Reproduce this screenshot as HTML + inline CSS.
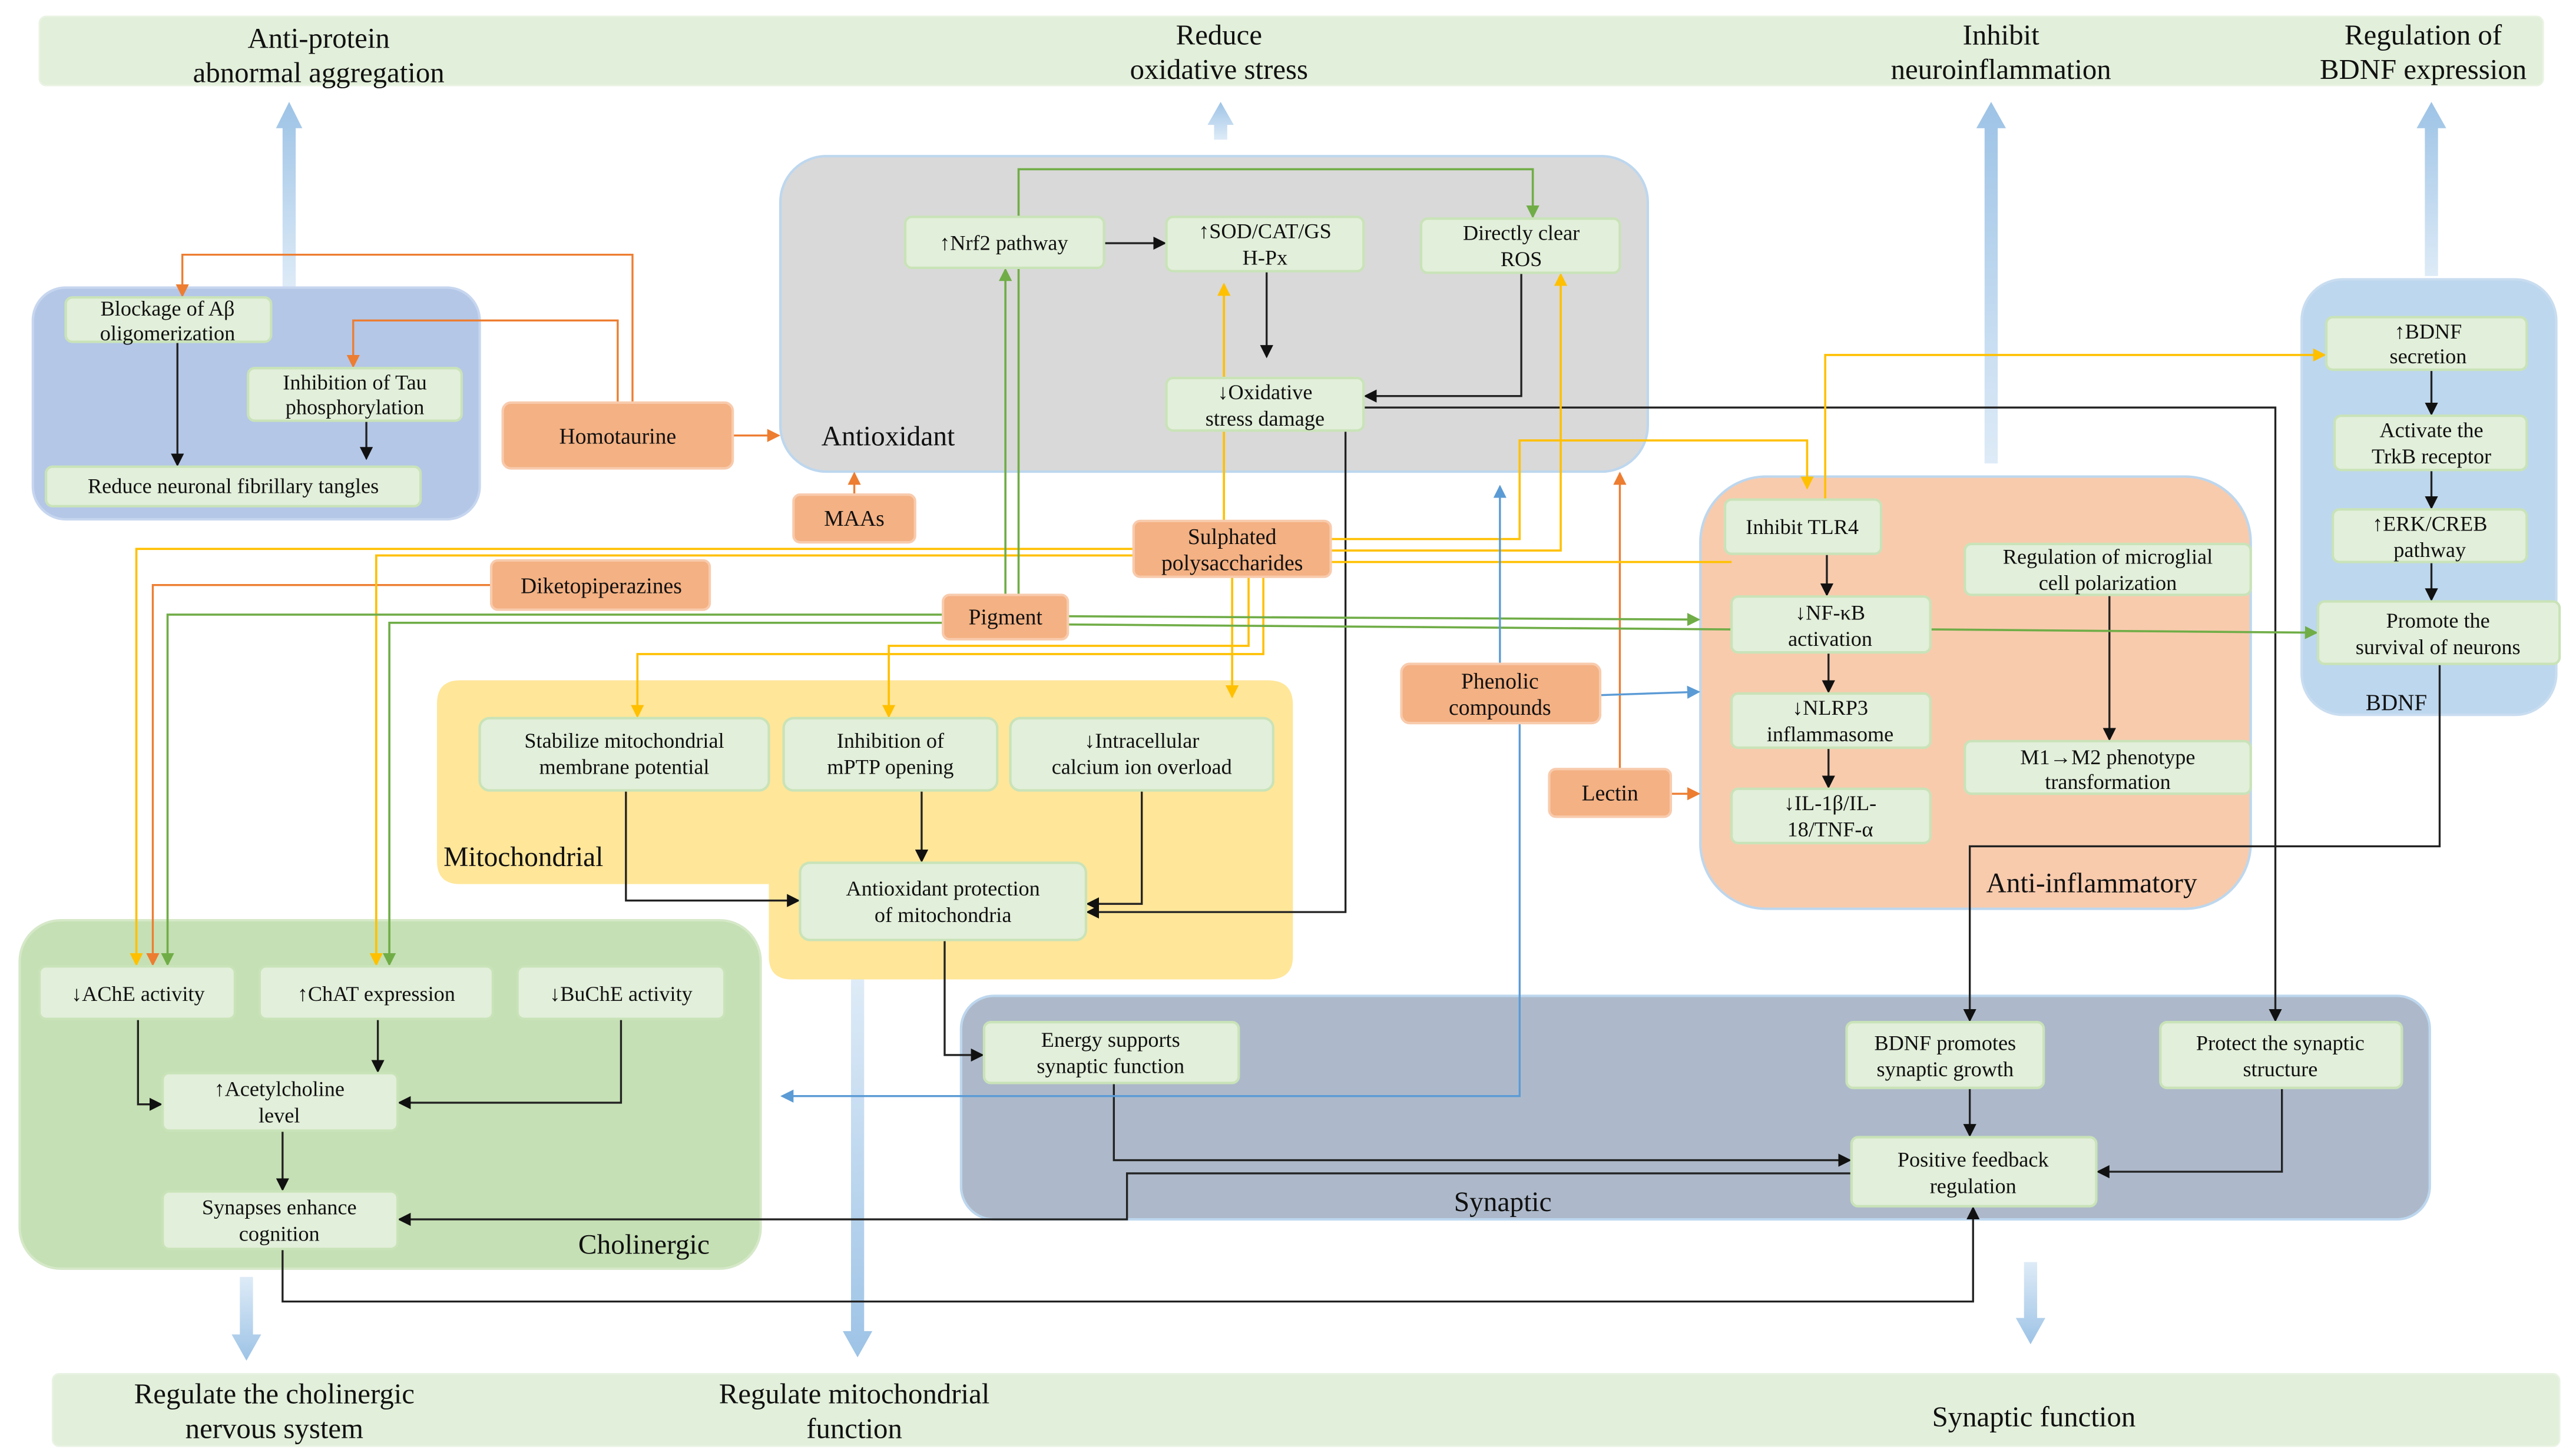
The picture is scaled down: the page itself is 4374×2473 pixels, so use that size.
<!DOCTYPE html>
<html><head><meta charset="utf-8"><style>
html,body{margin:0;padding:0;background:#fff;}
svg{display:block;}
text{font-family:"Liberation Serif",serif;fill:#111;}
.n{fill:#e2efda;stroke:#c9e3b8;stroke-width:1.5;}
.o{fill:#f4b183;stroke:#f8cbad;stroke-width:1.5;}
.t{font-size:13px;text-anchor:middle;}
.ot{font-size:13.5px;text-anchor:middle;}
.h{font-size:17.5px;text-anchor:middle;}
.g{font-size:17px;}
.k{fill:none;stroke:#222;stroke-width:1.2;}
.or{fill:none;stroke:#ed7d31;stroke-width:1.2;}
.y{fill:none;stroke:#ffc000;stroke-width:1.3;}
.gr{fill:none;stroke:#70ad47;stroke-width:1.3;}
.b{fill:none;stroke:#5b9bd5;stroke-width:1.2;}
</style></head><body>
<svg width="4374" height="2473" viewBox="0 0 1568 886" preserveAspectRatio="none" xmlns="http://www.w3.org/2000/svg">
<defs>
<marker id="ak" markerWidth="8" markerHeight="8" refX="7" refY="4" orient="auto" markerUnits="userSpaceOnUse"><path d="M0,0 L8,4 L0,8z" fill="#111"/></marker>
<marker id="ao" markerWidth="8" markerHeight="8" refX="7" refY="4" orient="auto" markerUnits="userSpaceOnUse"><path d="M0,0 L8,4 L0,8z" fill="#ed7d31"/></marker>
<marker id="ay" markerWidth="8" markerHeight="8" refX="7" refY="4" orient="auto" markerUnits="userSpaceOnUse"><path d="M0,0 L8,4 L0,8z" fill="#ffc000"/></marker>
<marker id="ag" markerWidth="8" markerHeight="8" refX="7" refY="4" orient="auto" markerUnits="userSpaceOnUse"><path d="M0,0 L8,4 L0,8z" fill="#70ad47"/></marker>
<marker id="ab" markerWidth="8" markerHeight="8" refX="7" refY="4" orient="auto" markerUnits="userSpaceOnUse"><path d="M0,0 L8,4 L0,8z" fill="#5b9bd5"/></marker>
<linearGradient id="up" x1="0" y1="1" x2="0" y2="0"><stop offset="0" stop-color="#deebf7"/><stop offset="1" stop-color="#9dc3e6"/></linearGradient>
<linearGradient id="dn" x1="0" y1="0" x2="0" y2="1"><stop offset="0" stop-color="#deebf7"/><stop offset="1" stop-color="#9dc3e6"/></linearGradient>
</defs>

<!-- bands -->
<rect x="24" y="10" width="1524" height="42" rx="4" fill="#e2efda" stroke="#e9f3e3"/>
<rect x="32" y="836" width="1526" height="44" rx="4" fill="#e2efda" stroke="#e9f3e3"/>
<text class="h" x="194" y="29">Anti-protein</text><text class="h" x="194" y="50">abnormal aggregation</text>
<text class="h" x="742" y="27">Reduce</text><text class="h" x="742" y="48">oxidative stress</text>
<text class="h" x="1218" y="27">Inhibit</text><text class="h" x="1218" y="48">neuroinflammation</text>
<text class="h" x="1475" y="27">Regulation of</text><text class="h" x="1475" y="48">BDNF expression</text>
<text class="h" x="167" y="854">Regulate the cholinergic</text><text class="h" x="167" y="875">nervous system</text>
<text class="h" x="520" y="854">Regulate mitochondrial</text><text class="h" x="520" y="875">function</text>
<text class="h" x="1238" y="868">Synaptic function</text>

<!-- big arrows -->
<path d="M172,175 V78 H168 L176,62 L184,78 H180 V175z" fill="url(#up)"/>
<path d="M739,85 V76 H735 L743,62 L751,76 H747 V85z" fill="url(#up)"/>
<path d="M1208,282 V78 H1203 L1212,62 L1221,78 H1216 V282z" fill="url(#up)"/>
<path d="M1476,168 V78 H1471 L1480,62 L1489,78 H1484 V168z" fill="url(#up)"/>
<path d="M146,777 V812 H141 L150,828 L159,812 H154 V777z" fill="url(#dn)"/>
<path d="M518,596 V810 H513 L522,826 L531,810 H526 V596z" fill="url(#dn)"/>
<path d="M1232,768 V802 H1227 L1236,818 L1245,802 H1240 V768z" fill="url(#dn)"/>

<!-- groups -->
<rect x="20" y="175" width="272" height="141" rx="20" fill="#b4c7e7" stroke="#c7d6ef" stroke-width="1.5"/>
<rect x="475" y="95" width="528" height="192" rx="28" fill="#d9d9d9" stroke="#bdd7ee" stroke-width="1.5"/>
<path d="M280,414 H772 Q787,414 787,429 V582 Q787,596 772,596 H482 Q468,596 468,582 V538 H280 Q266,538 266,524 V428 Q266,414 280,414z" fill="#ffe699"/>
<rect x="12" y="560" width="451" height="212" rx="25" fill="#c5e0b4" stroke="#d5e8c8" stroke-width="1.5"/>
<rect x="585" y="606" width="894" height="136" rx="20" fill="#adb9ca" stroke="#bdd7ee" stroke-width="1.5"/>
<rect x="1035" y="290" width="335" height="263" rx="40" fill="#f8cbad" stroke="#bdd7ee" stroke-width="1.5"/>
<rect x="1401" y="170" width="155" height="265" rx="25" fill="#bdd7ee" stroke="#c9ddf0" stroke-width="1.5"/>
<text class="g" x="500" y="271">Antioxidant</text>
<text class="g" x="270" y="527">Mitochondrial</text>
<text class="g" x="352" y="763">Cholinergic</text>
<text class="g" x="885" y="737">Synaptic</text>
<text class="g" x="1209" y="543">Anti-inflammatory</text>
<text x="1440" y="432" style="font-size:14px">BDNF</text>

<!-- connectors: black -->
<g class="k" marker-end="url(#ak)">
<path d="M108,208 V283"/><path d="M223,256 V279"/>
<path d="M672,148 H709"/><path d="M771,165 V217"/>
<path d="M926,166 V241 H831"/>
<path d="M819,262 V555 H662"/>
<path d="M830,248 H1385 V621"/>
<path d="M381,481 V548 H486"/><path d="M561,481 V524"/><path d="M695,481 V550 H662"/>
<path d="M575,572 V642 H598"/>
<path d="M84,620 V672 H98"/><path d="M230,620 V652"/><path d="M378,620 V671 H243"/>
<path d="M172,688 V724"/>
<path d="M172,760 V792 H1201 V735"/>
<path d="M678,659 V706 H1126"/>
<path d="M1127,714 H686 V742 H243"/>
<path d="M1199,662 V691"/><path d="M1389,662 V713 H1277"/>
<path d="M1485,404 V515 H1199 V621"/>
<path d="M1112,337 V362"/><path d="M1113,397 V421"/><path d="M1113,455 V479"/>
<path d="M1284,362 V450"/>
<path d="M1480,225 V252"/><path d="M1480,286 V309"/><path d="M1480,342 V365"/>
</g>
<!-- orange -->
<g class="or" marker-end="url(#ao)">
<path d="M385,245 V155 H111 V180"/>
<path d="M376,245 V195 H215 V223"/>
<path d="M446,265 H474"/>
<path d="M520,301 V288"/>
<path d="M299,356 H93 V587"/>
<path d="M986,468 V288"/>
<path d="M1017,483 H1034"/>
</g>
<!-- yellow -->
<g class="y" marker-end="url(#ay)">
<path d="M690,334 H83 V587"/>
<path d="M690,338 H229 V587"/>
<path d="M750,351 V424"/>
<path d="M760,351 V393 H541 V436"/>
<path d="M769,351 V398 H388 V436"/>
<path d="M745,317 V173"/>
<path d="M810,328 H925 V268 H1100 V297"/>
<path d="M810,335 H950 V167"/>
<path d="M1111,304 V216 H1415"/>
</g>
<path d="M810,342 H1054" class="y"/>
<!-- green -->
<g class="gr" marker-end="url(#ag)">
<path d="M612,362 V164"/>
<path d="M620,362 V103 H933 V132"/>
<path d="M574,374 H102 V587"/>
<path d="M574,379 H237 V587"/>
<path d="M650,375 L1034,377"/>
<path d="M1175,383 L1410,385"/>
</g>
<path d="M650,380 L1054,383" class="gr"/>
<!-- blue -->
<g class="b" marker-end="url(#ab)">
<path d="M913,404 V296"/>
<path d="M974,423 L1034,421"/>
<path d="M925,440 V667 H476"/>
</g>

<!-- green nodes -->
<g>
<rect class="n" x="40" y="181" width="125" height="27" rx="4"/><text class="t" x="102" y="192">Blockage of Aβ</text><text class="t" x="102" y="207">oligomerization</text>
<rect class="n" x="151" y="224" width="130" height="32" rx="4"/><text class="t" x="216" y="237">Inhibition of Tau</text><text class="t" x="216" y="252">phosphorylation</text>
<rect class="n" x="28" y="284" width="228" height="24" rx="4"/><text class="t" x="142" y="300">Reduce neuronal fibrillary tangles</text>
<rect class="n" x="551" y="132" width="121" height="31" rx="4"/><text class="t" x="611" y="152">↑Nrf2 pathway</text>
<rect class="n" x="710" y="132" width="120" height="33" rx="4"/><text class="t" x="770" y="145">↑SOD/CAT/GS</text><text class="t" x="770" y="161">H-Px</text>
<rect class="n" x="865" y="133" width="121" height="33" rx="4"/><text class="t" x="926" y="146">Directly clear</text><text class="t" x="926" y="162">ROS</text>
<rect class="n" x="710" y="230" width="120" height="32" rx="4"/><text class="t" x="770" y="243">↓Oxidative</text><text class="t" x="770" y="259">stress damage</text>
<rect class="n" x="292" y="437" width="176" height="44" rx="6"/><text class="t" x="380" y="455">Stabilize mitochondrial</text><text class="t" x="380" y="471">membrane potential</text>
<rect class="n" x="477" y="437" width="130" height="44" rx="6"/><text class="t" x="542" y="455">Inhibition of</text><text class="t" x="542" y="471">mPTP opening</text>
<rect class="n" x="615" y="437" width="160" height="44" rx="6"/><text class="t" x="695" y="455">↓Intracellular</text><text class="t" x="695" y="471">calcium ion overload</text>
<rect class="n" x="487" y="525" width="174" height="47" rx="6"/><text class="t" x="574" y="545">Antioxidant protection</text><text class="t" x="574" y="561">of mitochondria</text>
<rect class="n" x="24" y="588" width="119" height="32" rx="4"/><text class="t" x="84" y="609">↓AChE activity</text>
<rect class="n" x="158" y="588" width="142" height="32" rx="4"/><text class="t" x="229" y="609">↑ChAT expression</text>
<rect class="n" x="315" y="588" width="126" height="32" rx="4"/><text class="t" x="378" y="609">↓BuChE activity</text>
<rect class="n" x="99" y="653" width="143" height="35" rx="4"/><text class="t" x="170" y="667">↑Acetylcholine</text><text class="t" x="170" y="683">level</text>
<rect class="n" x="99" y="725" width="143" height="35" rx="4"/><text class="t" x="170" y="739">Synapses enhance</text><text class="t" x="170" y="755">cognition</text>
<rect class="n" x="599" y="622" width="155" height="37" rx="4"/><text class="t" x="676" y="637">Energy supports</text><text class="t" x="676" y="653">synaptic function</text>
<rect class="n" x="1124" y="622" width="120" height="40" rx="4"/><text class="t" x="1184" y="639">BDNF promotes</text><text class="t" x="1184" y="655">synaptic growth</text>
<rect class="n" x="1315" y="622" width="147" height="40" rx="4"/><text class="t" x="1388" y="639">Protect the synaptic</text><text class="t" x="1388" y="655">structure</text>
<rect class="n" x="1127" y="692" width="149" height="42" rx="4"/><text class="t" x="1201" y="710">Positive feedback</text><text class="t" x="1201" y="726">regulation</text>
<rect class="n" x="1050" y="304" width="95" height="33" rx="4"/><text class="t" x="1097" y="325">Inhibit TLR4</text>
<rect class="n" x="1054" y="363" width="121" height="34" rx="4"/><text class="t" x="1114" y="377">↓NF-κB</text><text class="t" x="1114" y="393">activation</text>
<rect class="n" x="1054" y="422" width="121" height="33" rx="4"/><text class="t" x="1114" y="435">↓NLRP3</text><text class="t" x="1114" y="451">inflammasome</text>
<rect class="n" x="1054" y="480" width="121" height="33" rx="4"/><text class="t" x="1114" y="493">↓IL-1β/IL-</text><text class="t" x="1114" y="509">18/TNF-α</text>
<rect class="n" x="1196" y="331" width="174" height="31" rx="4"/><text class="t" x="1283" y="343">Regulation of microglial</text><text class="t" x="1283" y="359">cell polarization</text>
<rect class="n" x="1196" y="451" width="174" height="32" rx="4"/><text class="t" x="1283" y="465">M1→M2 phenotype</text><text class="t" x="1283" y="480">transformation</text>
<rect class="n" x="1416" y="193" width="122" height="32" rx="4"/><text class="t" x="1478" y="206">↑BDNF</text><text class="t" x="1478" y="221">secretion</text>
<rect class="n" x="1421" y="253" width="117" height="33" rx="4"/><text class="t" x="1480" y="266">Activate the</text><text class="t" x="1480" y="282">TrkB receptor</text>
<rect class="n" x="1420" y="310" width="118" height="32" rx="4"/><text class="t" x="1479" y="323">↑ERK/CREB</text><text class="t" x="1479" y="339">pathway</text>
<rect class="n" x="1411" y="366" width="147" height="38" rx="4"/><text class="t" x="1484" y="382">Promote the</text><text class="t" x="1484" y="398">survival of neurons</text>
</g>
<!-- orange nodes -->
<rect class="o" x="306" y="245" width="140" height="40" rx="5"/><text class="ot" x="376" y="270">Homotaurine</text>
<rect class="o" x="483" y="301" width="74" height="29" rx="4"/><text class="ot" x="520" y="320">MAAs</text>
<rect class="o" x="690" y="317" width="120" height="34" rx="4"/><text class="ot" x="750" y="331">Sulphated</text><text class="ot" x="750" y="347">polysaccharides</text>
<rect class="o" x="299" y="341" width="133" height="30" rx="4"/><text class="ot" x="366" y="361">Diketopiperazines</text>
<rect class="o" x="574" y="362" width="76" height="27" rx="4"/><text class="ot" x="612" y="380">Pigment</text>
<rect class="o" x="853" y="404" width="121" height="36" rx="5"/><text class="ot" x="913" y="419">Phenolic</text><text class="ot" x="913" y="435">compounds</text>
<rect class="o" x="943" y="468" width="74" height="29" rx="4"/><text class="ot" x="980" y="487">Lectin</text>
</svg>
</body></html>
